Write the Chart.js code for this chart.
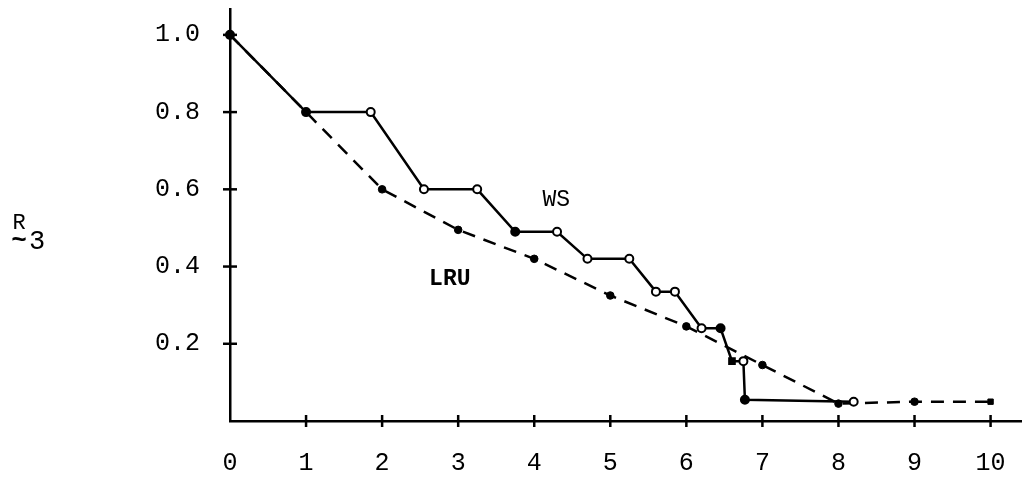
<!DOCTYPE html>
<html><head><meta charset="utf-8">
<script src="https://cdn.jsdelivr.net/npm/chart.js@4/dist/chart.umd.min.js"></script>
<style>html,body{margin:0;padding:0;background:#fff}#wrap{width:1027px;height:477px;position:relative}</style>
</head><body><div id="wrap"><canvas id="c" width="1027" height="477"></canvas></div>
<script>
// ---- data ----
const xTickValues = [0, 1, 2, 3, 4, 5, 6, 7, 8, 9, 10];
const yTickValues = [0, 0.2, 0.4, 0.6, 0.8, 1.0];
const wsX = [0, 1, 1.85, 2.55, 3.25, 3.75, 4.3, 4.7, 5.25, 5.6, 5.85, 6.2, 6.45, 6.6, 6.75, 6.77, 8.2];
const wsY = [1.0, 0.8, 0.8, 0.6, 0.6, 0.49, 0.49, 0.42, 0.42, 0.335, 0.335, 0.24, 0.24, 0.155, 0.155, 0.055, 0.05];
const lruX = [0, 1, 2, 3, 4, 5, 6, 7, 8, 9, 10];
const lruY = [1.0, 0.8, 0.6, 0.495, 0.42, 0.325, 0.245, 0.145, 0.045, 0.05, 0.05];
const seriesNames = ['WS', 'LRU'];
const yAxisSymbol = 'R';
const yAxisSub = '3';

const FONT = "'Liberation Mono', 'DejaVu Sans Mono', monospace";
const toPts = (xs, ys) => xs.map((x, i) => ({ x: x, y: ys[i] }));

const wsFilled = [0, 1, 5, 12, 13, 15];

const decor = {
  id: 'decor',
  afterDraw(chart) {
    const { ctx, scales: { x, y } } = chart;
    ctx.save();
    ctx.strokeStyle = '#000';
    ctx.lineWidth = 2.5;
    const y0 = y.getPixelForValue(0), x0 = x.getPixelForValue(0);
    xTickValues.forEach(v => {
      if (v === 0) return;
      const px = x.getPixelForValue(v);
      ctx.beginPath(); ctx.moveTo(px, y0 - 6); ctx.lineTo(px, y0 + 6); ctx.stroke();
    });
    yTickValues.forEach(v => {
      if (v === 0) return;
      const py = y.getPixelForValue(v);
      ctx.beginPath(); ctx.moveTo(x0 - 7, py); ctx.lineTo(x0 + 7, py); ctx.stroke();
    });
    // series annotations
    ctx.fillStyle = '#000';
    ctx.textAlign = 'center';
    ctx.textBaseline = 'middle';
    ctx.font = '23px ' + FONT;
    ctx.fillText(seriesNames[0], x.getPixelForValue(4.29), y.getPixelForValue(0.572));
    ctx.font = 'bold 23px ' + FONT;
    ctx.fillText(seriesNames[1], x.getPixelForValue(2.89), y.getPixelForValue(0.368));
    // y-axis symbol
    ctx.font = '22px ' + FONT;
    ctx.fillText(yAxisSymbol, 19, 223);
    ctx.font = 'bold 26px ' + FONT;
    ctx.fillText('~', 19, 241);
    ctx.font = '27px ' + FONT;
    ctx.fillText(yAxisSub, 37, 242);
    ctx.restore();
  }
};

new Chart(document.getElementById('c'), {
  type: 'line',
  data: {
    datasets: [
      {
        label: seriesNames[0],
        data: toPts(wsX, wsY),
        borderColor: '#000',
        borderWidth: 2.5,
        tension: 0,
        clip: false,
        pointRadius: 4,
        pointBorderWidth: 2,
        pointBorderColor: '#000',
        pointBackgroundColor: c => wsFilled.includes(c.dataIndex) ? '#000' : '#fff',
        pointStyle: c => c.dataIndex === 13 ? 'rect' : 'circle'
      },
      {
        label: seriesNames[1],
        data: toPts(lruX, lruY),
        borderColor: '#000',
        borderWidth: 2.5,
        borderDash: [13, 9],
        tension: 0,
        clip: false,
        pointRadius: 3.8,
        pointBorderWidth: 1,
        pointBorderColor: '#000',
        pointBackgroundColor: '#000',
        pointStyle: c => c.dataIndex === 10 ? 'rect' : 'circle'
      }
    ]
  },
  options: {
    responsive: false,
    animation: false,
    devicePixelRatio: 1,
    layout: { padding: { top: 9, right: 5, left: 0, bottom: 0 } },
    plugins: { legend: { display: false }, tooltip: { enabled: false } },
    scales: {
      x: {
        type: 'linear', min: 0, max: 10.4,
        afterBuildTicks: s => { s.ticks = xTickValues.map(v => ({ value: v })); },
        afterFit: s => { s.height = 56; s.paddingLeft = 0; s.paddingRight = 0; },
        grid: { display: false },
        border: { display: true, color: '#000', width: 2.5 },
        ticks: { color: '#000', font: { family: FONT, size: 25 }, padding: 19, autoSkip: false, maxRotation: 0,
                 callback: v => String(v) }
      },
      y: {
        type: 'linear', min: 0, max: 1.067,
        afterBuildTicks: s => { s.ticks = yTickValues.map(v => ({ value: v })); },
        afterFit: s => { s.width = 230; s.paddingTop = 0; s.paddingBottom = 0; },
        grid: { display: false },
        border: { display: true, color: '#000', width: 2.5 },
        ticks: { color: '#000', font: { family: FONT, size: 25 }, padding: 22, autoSkip: false,
                 callback: v => v === 0 ? '' : v.toFixed(1) }
      }
    }
  },
  plugins: [decor]
});
</script></body></html>
